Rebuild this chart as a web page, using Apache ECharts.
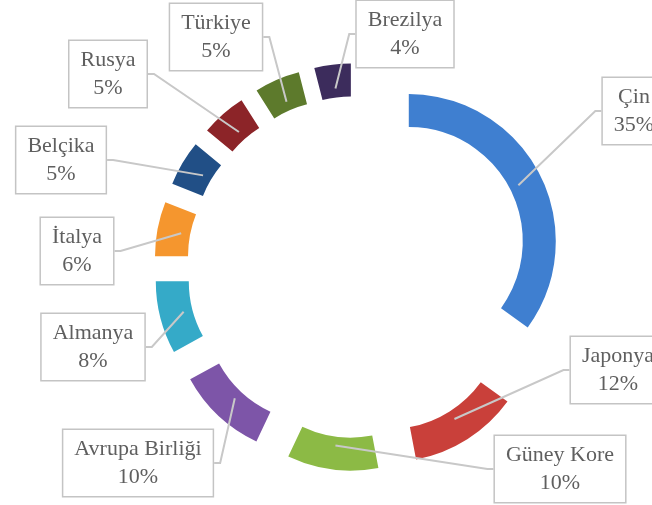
<!DOCTYPE html>
<html>
<head>
<meta charset="utf-8">
<script src="https://cdn.jsdelivr.net/npm/echarts@6/dist/echarts.min.js"></script>
<style>
	html, body { margin: 0; padding: 0; background: #fff; }
	#main { width: 652px; height: 505px; }
</style>
</head>
<body>
<div id="main"></div>
<script>
// ülkeler ve payları (%)
var ulkeler = ['Çin', 'Japonya', 'Güney Kore', 'Avrupa Birliği', 'Almanya', 'İtalya', 'Belçika', 'Rusya', 'Türkiye', 'Brezilya'];
var paylar = [35, 12, 10, 10, 8, 6, 5, 5, 5, 4];
var renkler = ['#3f7fd0', '#c9403a', '#8cba45', '#7d55a8', '#35aac8', '#f5962e', '#214f86', '#8c2428', '#5d7a2c', '#3c2c5c'];

// etiket kutularının yerleri (merkez)
var etiketX = [634, 618, 560, 138, 93, 77, 61, 108, 216, 405];
var etiketY = [111, 370, 469, 463, 347, 251, 160, 74, 37, 34];

var merkez = [358, 267];

// dilimler (patlatılmış halka)
var dilimler = [];
// etiketler için görünmez halka
var etiketler = [];
for (var i = 0; i < ulkeler.length; i++) {
	dilimler.push({
		name: ulkeler[i],
		value: paylar[i],
		selected: true,
		itemStyle: { color: renkler[i] }
	});
	etiketler.push({
		name: ulkeler[i],
		value: paylar[i]
	});
}

var chart = echarts.init(document.getElementById('main'));
var option = {
	animation: false,
	series: [{
		type: 'pie',
		z: 2,
		center: merkez,
		radius: [114, 147],
		startAngle: 90,
		selectedMode: 'multiple',
		selectedOffset: 57,
		silent: true,
		label: { show: false },
		labelLine: { show: false },
		data: dilimler
	}, {
		type: 'pie',
		z: 5,
		center: merkez,
		radius: [150, 180],
		startAngle: 90,
		selectedMode: false,
		silent: true,
		itemStyle: { color: 'rgba(0,0,0,0)' },
		label: {
			show: true,
			position: 'outside',
			formatter: '{b}\n{c}%',
			fontFamily: 'Liberation Serif',
			fontSize: 22,
			lineHeight: 28,
			color: '#5f5f5f',
			align: 'center',
			backgroundColor: '#fff',
			borderColor: '#c4c4c4',
			borderWidth: 1.5,
			padding: [5, 11]
		},
		labelLine: {
			show: true,
			length2: 6,
			lineStyle: { color: '#c8c8c8', width: 2 }
		},
		labelLayout: function(params) {
			return {
				x: etiketX[params.dataIndex],
				y: etiketY[params.dataIndex],
				align: 'center',
				verticalAlign: 'middle'
			};
		},
		data: etiketler
	}]
};
chart.setOption(option);
</script>
</body>
</html>
